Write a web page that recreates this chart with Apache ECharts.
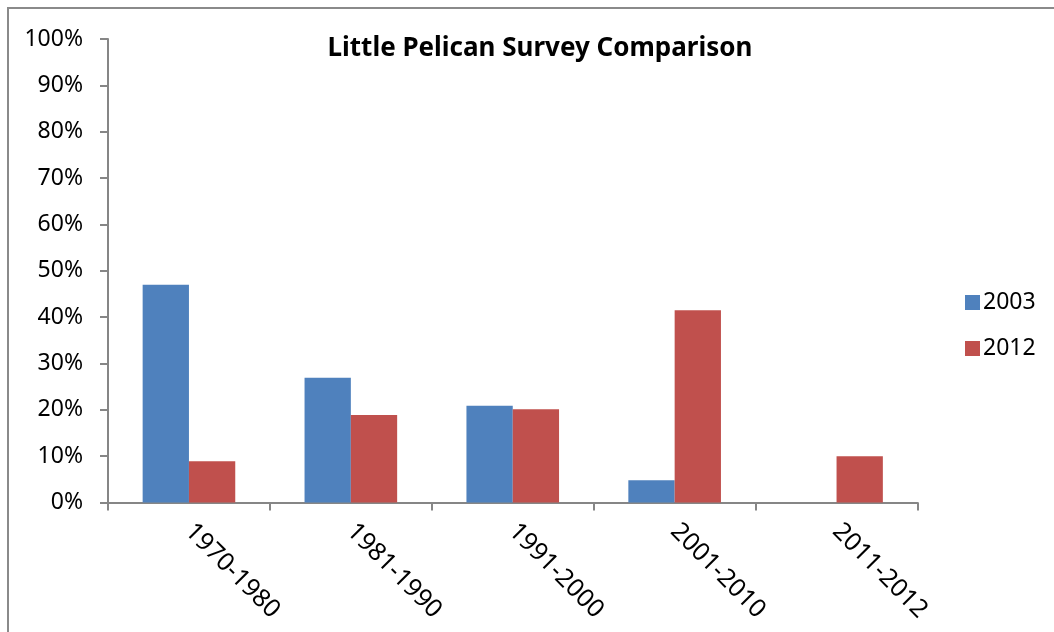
<!DOCTYPE html>
<html>
<head>
<meta charset="utf-8">
<script src="https://cdn.jsdelivr.net/npm/echarts@6/dist/echarts.min.js"></script>
<style>
  html, body { margin: 0; padding: 0; background: #fff; }
  #chart { width: 1054px; height: 632px; }
</style>
</head>
<body>
<div id="chart"></div>
<script>
// Survey periods and the share of records in each, per survey year
const categories = ['1970-1980', '1981-1990', '1991-2000', '2001-2010', '2011-2012'];
const survey2003 = [0.47, 0.269, 0.209, 0.048, 0];
const survey2012 = [0.089, 0.189, 0.201, 0.415, 0.10];
const seriesNames = ['2003', '2012'];

const FONT = 'Noto Sans';
const AXIS_GREY = '#868686';

const chart = echarts.init(document.getElementById('chart'), null, { renderer: 'canvas' });

chart.setOption({
  animation: false,
  backgroundColor: '#ffffff',
  textStyle: { fontFamily: FONT },
  title: {
    text: 'Little Pelican Survey Comparison',
    left: 535,
    top: 31,
    textAlign: 'center',
    textStyle: { fontFamily: FONT, fontWeight: 'bold', fontSize: 26, color: '#000' }
  },
  legend: {
    data: seriesNames,
    orient: 'vertical',
    left: 960,
    top: 286,
    itemWidth: 15,
    itemHeight: 15,
    itemGap: 23,
    icon: 'rect',
    textStyle: { fontFamily: FONT, fontSize: 23, color: '#000', padding: [0, 0, 0, -2] }
  },
  graphic: [{
    type: 'rect',
    shape: { x: 8, y: 8, width: 1100, height: 700 },
    style: { fill: 'none', stroke: '#8a8a8a', lineWidth: 2 },
    silent: true,
    z: 0
  }],
  grid: { left: 108, right: 136.5, top: 39, bottom: 129.5, containLabel: false },
  xAxis: {
    type: 'category',
    data: categories,
    boundaryGap: true,
    axisLine: { lineStyle: { color: AXIS_GREY, width: 2 } },
    axisTick: { show: true, length: 8, alignWithLabel: false, lineStyle: { color: AXIS_GREY, width: 2 } },
    axisLabel: {
      rotate: -45,
      margin: 25,
      fontFamily: FONT,
      fontSize: 25,
      color: '#000',
      interval: 0
    },
    splitLine: { show: false }
  },
  yAxis: {
    type: 'value',
    min: 0,
    max: 1,
    interval: 0.1,
    axisLine: { show: true, lineStyle: { color: AXIS_GREY, width: 2 } },
    axisTick: { show: true, length: 8, lineStyle: { color: AXIS_GREY, width: 2 } },
    axisLabel: {
      margin: 25,
      fontFamily: FONT,
      fontSize: 23,
      color: '#000',
      formatter: v => Math.round(v * 100) + '%'
    },
    splitLine: { show: false }
  },
  series: [
    {
      name: seriesNames[0],
      type: 'bar',
      data: survey2003,
      barGap: '0%',
      barCategoryGap: '42.8%',
      itemStyle: { color: '#4F81BD' }
    },
    {
      name: seriesNames[1],
      type: 'bar',
      data: survey2012,
      barGap: '0%',
      barCategoryGap: '42.8%',
      itemStyle: { color: '#C0504D' }
    }
  ]
});
</script>
</body>
</html>
